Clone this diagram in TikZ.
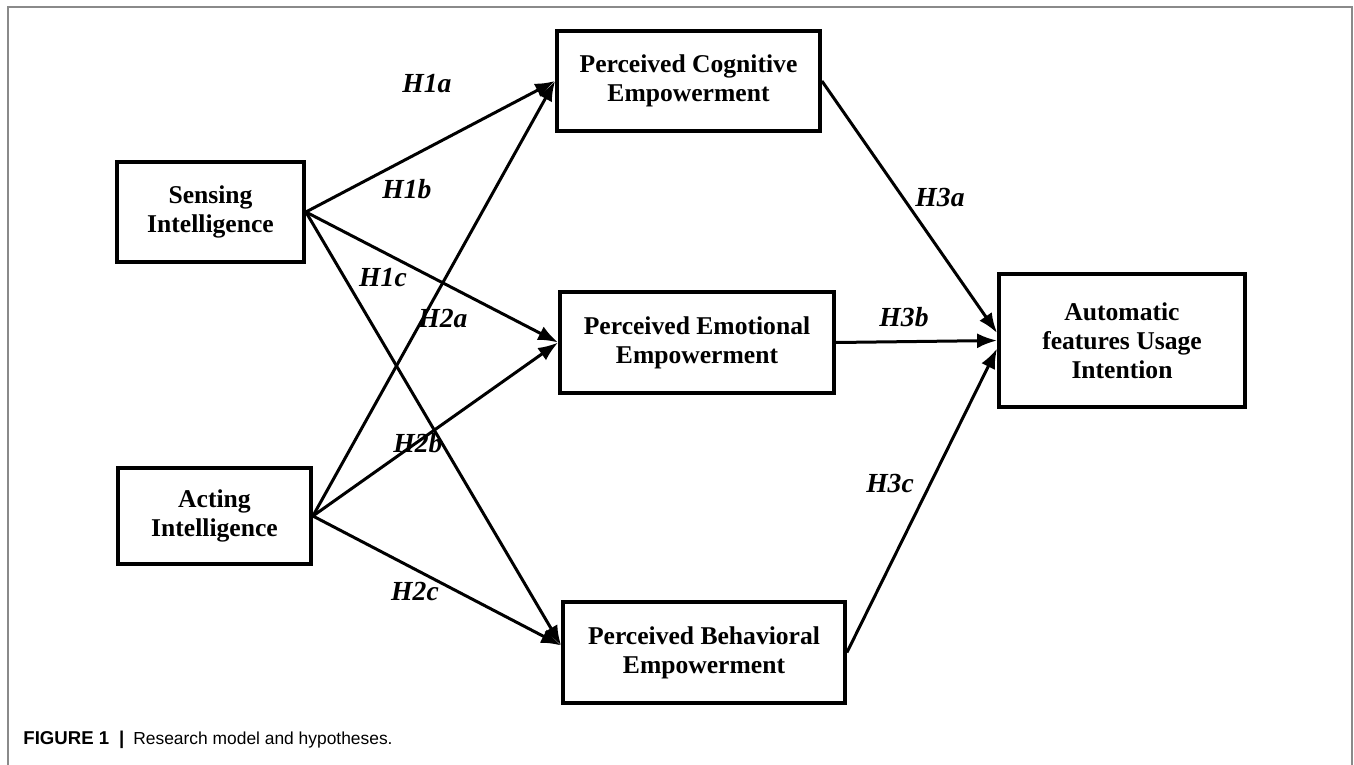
\documentclass[tikz,border=0pt]{standalone}
\usepackage{fontspec}
\setmainfont{Liberation Serif}
\newfontfamily\capfont{Liberation Sans}
\usetikzlibrary{arrows.meta,positioning}
\definecolor{framegrey}{HTML}{8A8A8A}

\begin{document}
\begin{tikzpicture}[x=0.5pt,y=-0.5pt,
  every node/.style={font=\fontsize{12.8}{14.6}\selectfont\bfseries},
  cbox/.style={draw,line width=1.9pt,inner sep=0pt,align=center,minimum height=50pt},
  hyp/.style={font=\fontsize{13.8}{16}\selectfont\bfseries\itshape,inner sep=0pt},
  link/.style={-{Latex[length=10pt,width=7.5pt]},line width=1.5pt}
]
\useasboundingbox (0,0) rectangle (1354,765);
\draw[framegrey,line width=1pt] (7.5,765) -- (7.5,7) -- (1352,7) -- (1352,765);

% constructs
\node[cbox,minimum width=93.5pt] (sens) at (210.5,212) {Sensing\\Intelligence};
\node[cbox,minimum width=96.5pt,minimum height=48pt] (act) at (214.5,516) {Acting\\Intelligence};
\node[cbox,minimum width=131.5pt] (cog) at (688.5,81) {Perceived Cognitive\\Empowerment};
\node[cbox,minimum width=137pt,minimum height=50.5pt] (emo) at (697,342.5) {Perceived Emotional\\Empowerment};
\node[cbox,minimum width=141pt,minimum height=50.5pt] (beh) at (704,652.5) {Perceived Behavioral\\Empowerment};
\node[cbox,minimum width=123pt,minimum height=66.5pt] (auto) at (1122,340.5) {Automatic\\features Usage\\Intention};

% paths
\draw[link] (sens.east) -- (cog.west);
\draw[link] (sens.east) -- (emo.west);
\draw[link] (sens.east) -- ([yshift=3.5pt]beh.west);
\draw[link] (act.east) -- (cog.west);
\draw[link] (act.east) -- (emo.west);
\draw[link] (act.east) -- ([yshift=3.5pt]beh.west);
\draw[link] (cog.east) -- ([yshift=3.75pt]auto.west);
\draw[link] (emo.east) -- (auto.west);
\draw[link] (beh.east) -- ([yshift=-4pt]auto.west);

% hypotheses
\node[hyp] (h1a) at (427,84) {H1a};
\node[hyp] (h1b) at (407,189) {H1b};
\node[hyp] (h1c) at (383,278) {H1c};
\node[hyp] (h2a) at (443,319) {H2a};
\node[hyp] (h2b) at (418,443) {H2b};
\node[hyp] (h2c) at (415,591) {H2c};
\node[hyp] (h3a) at (940,198) {H3a};
\node[hyp] (h3b) at (904,317) {H3b};
\node[hyp] (h3c) at (890,483) {H3c};

\node[anchor=base west,inner sep=0pt,font=\capfont\fontsize{9.3}{11}\selectfont] (cap) at (23,744)
  {\textbf{FIGURE 1}\hspace{5pt}\textbf{|}\hspace{4.5pt}{\fontsize{8.7}{11}\selectfont Research model and hypotheses.}};
\end{tikzpicture}
\end{document}
